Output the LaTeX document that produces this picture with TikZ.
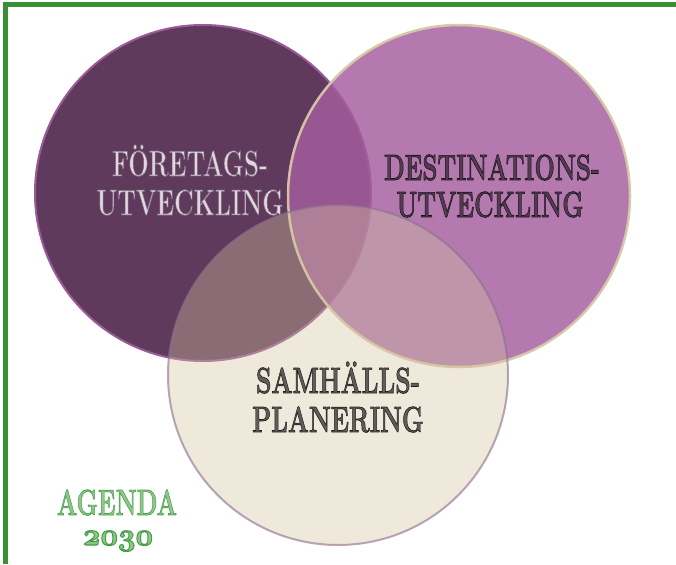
\documentclass[tikz,border=0pt]{standalone}
\usepackage{graphicx}
\definecolor{frameG}{RGB}{55,145,50}
\definecolor{cA}{RGB}{96,58,92}
\definecolor{cAb}{RGB}{155,90,152}
\definecolor{cB}{RGB}{164,94,158}
\definecolor{cBb}{RGB}{216,200,168}
\definecolor{cC}{RGB}{212,196,160}
\definecolor{cCb}{RGB}{140,110,140}
\definecolor{tAf}{RGB}{226,214,225}
\definecolor{tBf}{RGB}{84,58,82}
\definecolor{tCf}{RGB}{96,92,88}
\definecolor{tDf}{RGB}{140,200,140}
% #1 = stroke colour as "r g b" (0..1), #2 = fill colour, #3 = text
\newcommand\otext[3]{{\color{#2}\special{pdf:literal direct #1 RG 2 Tr 0.7 w}#3\special{pdf:literal direct 0 Tr}}}
\newcommand\osfdigits[1]{{\fontencoding{OML}\fontfamily{cmm}\fontseries{b}\fontshape{it}\fontsize{20.74}{24}\selectfont #1}}
\tikzset{
  lbl/.style={anchor=base, inner sep=0pt, font=\fontsize{36.4}{40}\selectfont\bfseries},
}
\begin{document}
\begin{tikzpicture}[x=1pt,y=-1pt]
\useasboundingbox (0,0) rectangle (676,564);
\fill[white] (0,0) rectangle (676,564);
% frame
\fill[frameG] (3,2) rectangle (676,7);
\fill[frameG] (3,2) rectangle (8,564);
% circles
\fill[cA] (203,193) circle[radius=168];
\draw[cAb, line width=2pt] (203,193) circle[radius=168];
\fill[cB, fill opacity=0.825] (459,196) circle[radius=171];
\draw[cBb, line width=2.5pt, draw opacity=0.95] (459,196) circle[radius=171];
\fill[cC, fill opacity=0.37] (338,375) circle[radius=170];
\draw[cCb, line width=2pt, draw opacity=0.6] (338,375) circle[radius=170];
% labels
\node[lbl] (f1) at (190,176) {\scalebox{0.66}[1]{\otext{0.45 0.38 0.45}{tAf}{FÖRETAGS-}}};
\node[lbl] (f2) at (190,215) {\scalebox{0.66}[1]{\otext{0.45 0.38 0.45}{tAf}{UTVECKLING}}};
\node[lbl] (d1) at (492,180) {\scalebox{0.66}[1]{\otext{0.1 0.08 0.1}{tBf}{DESTINATIONS-}}};
\node[lbl] (d2) at (490,217) {\scalebox{0.66}[1]{\otext{0.1 0.08 0.1}{tBf}{UTVECKLING}}};
\node[lbl] (s1) at (338,393) {\scalebox{0.68}[1]{\otext{0.12 0.12 0.12}{tCf}{SAMHÄLLS-}}};
\node[lbl] (s2) at (338,432) {\scalebox{0.68}[1]{\otext{0.12 0.12 0.12}{tCf}{PLANERING}}};
\node[lbl] (a1) at (117,515) {\scalebox{0.66}[1]{\otext{0.28 0.62 0.28}{tDf}{AGENDA}}};
\node[lbl] (a2) at (118,545) {\scalebox{1.47}[1.5]{\otext{0.28 0.62 0.28}{tDf}{\osfdigits{2030}}}};
\end{tikzpicture}
\end{document}
